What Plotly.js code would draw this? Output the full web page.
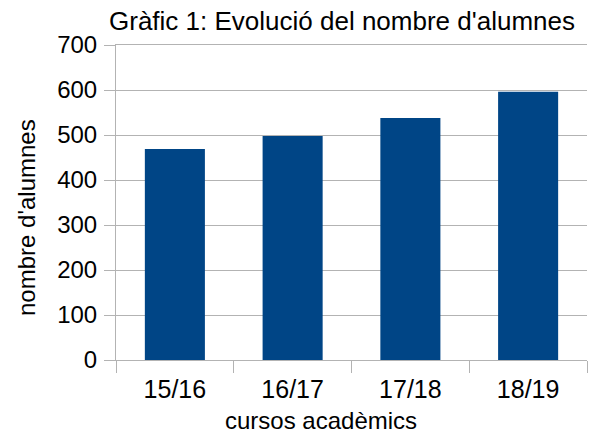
<!DOCTYPE html>
<html>
<head>
<meta charset="utf-8">
<script src="https://cdn.plot.ly/plotly-3.0.1.min.js"></script>
<style>
  html, body { margin: 0; padding: 0; background: #fff; }
  #chart { width: 589px; height: 430px; }
</style>
</head>
<body>
<div id="chart"></div>
<script>
// Course years and student counts
const cursos = ['15/16', '16/17', '17/18', '18/19'];
const alumnes = [469, 498, 538, 596];
const yTicks = [0, 100, 200, 300, 400, 500, 600, 700];

const gridGrey = '#b3b3b3';
const fontFamily = '"Liberation Sans", Arial, sans-serif';

const traces = [{
  type: 'bar',
  x: cursos,
  y: alumnes,
  marker: { color: '#004586' },
  hoverinfo: 'x+y'
}];

const layout = {
  width: 589,
  height: 430,
  margin: { l: 116, r: 2, t: 45, b: 70 },
  paper_bgcolor: '#ffffff',
  plot_bgcolor: '#ffffff',
  font: { family: fontFamily, color: '#000000' },
  showlegend: false,
  bargap: 0.49,
  title: {
    text: "Gràfic 1: Evolució del nombre d'alumnes",
    font: { size: 26, color: '#000000' },
    xref: 'container',
    x: 342 / 589,
    xanchor: 'center',
    yref: 'container',
    y: 1 - 21 / 430,
    yanchor: 'middle'
  },
  xaxis: {
    type: 'category',
    tickson: 'boundaries',
    ticks: 'outside',
    ticklen: 12,
    tickcolor: gridGrey,
    showgrid: false,
    showline: true,
    linecolor: gridGrey,
    mirror: true,
    tickfont: { size: 25 },
    ticklabelstandoff: 7,
    fixedrange: true
  },
  yaxis: {
    range: [0, 700],
    tickvals: yTicks,
    ticks: 'outside',
    ticklen: 11,
    tickcolor: gridGrey,
    gridcolor: gridGrey,
    showline: true,
    linecolor: gridGrey,
    zeroline: false,
    tickfont: { size: 24 },
    ticklabelstandoff: 2,
    fixedrange: true
  },
  annotations: [
    {
      text: 'cursos acadèmics',
      xref: 'paper', yref: 'paper',
      x: (321 - 116) / 471, y: -60 / 315,
      xanchor: 'center', yanchor: 'middle',
      showarrow: false,
      font: { size: 24 }
    },
    {
      text: "nombre d'alumnes",
      textangle: -90,
      xref: 'paper', yref: 'paper',
      x: (26 - 116) / 471, y: (360 - 218) / 315,
      xanchor: 'center', yanchor: 'middle',
      showarrow: false,
      font: { size: 24 }
    }
  ]
};

Plotly.newPlot('chart', traces, layout, { displayModeBar: false, staticPlot: true });
</script>
</body>
</html>
